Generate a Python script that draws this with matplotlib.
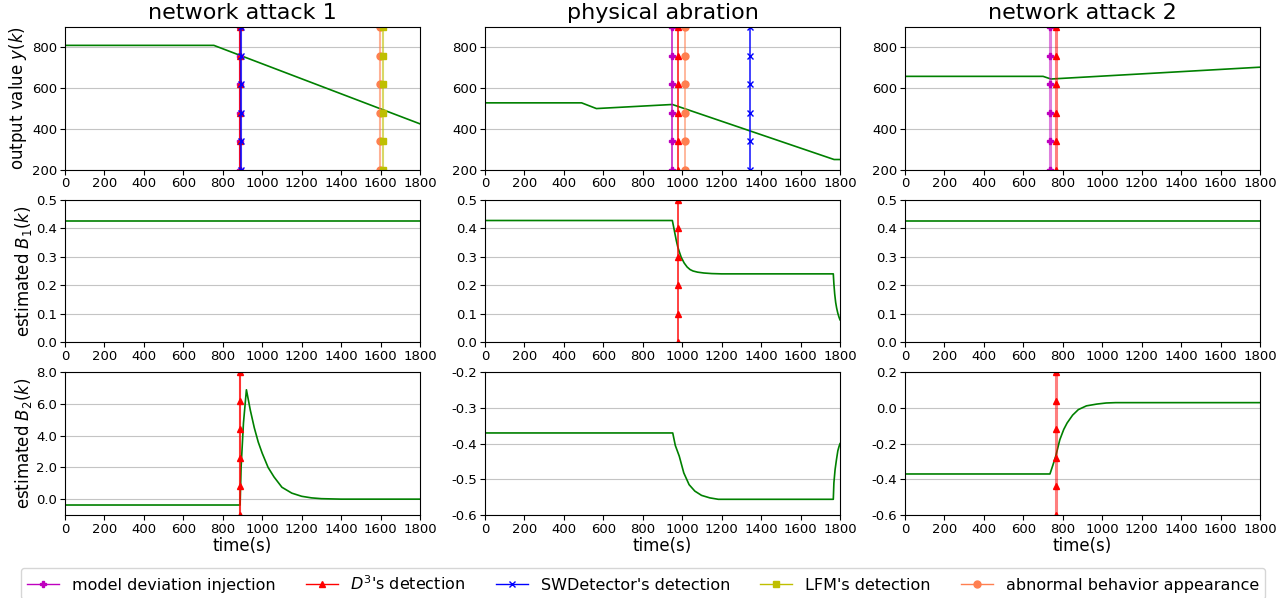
#!/usr/bin/env python3
"""
三种场景下输出值与参数估计曲线，以及各检测器的检测时刻
"""
import numpy as np
import matplotlib
matplotlib.use('Agg')
import matplotlib.pyplot as plt
from matplotlib.lines import Line2D

# 场景标题
scenarios = ['network attack 1', 'physical abration', 'network attack 2']

# 输出值 y(k)
t_y_1 = [0, 755, 1800]
y_1 = [810, 810, 425]
t_y_2 = [0, 490, 565, 950, 1770, 1800]
y_2 = [528, 528, 500, 520, 250, 250]
t_y_3 = [0, 700, 740, 1800]
y_3 = [658, 658, 645, 703]

# 估计的 B1(k)
t_b1_1 = [0, 1800]
b1_1 = [0.427, 0.427]
t_b1_2 = [0, 950, 955, 962, 970, 977, 985, 995, 1010, 1025, 1040, 1055, 1078, 1110, 1150, 1200,
          1766, 1769, 1773, 1778, 1783, 1789, 1795, 1800]
b1_2 = [0.427, 0.427, 0.41, 0.385, 0.357, 0.336, 0.318, 0.298, 0.278, 0.264, 0.255, 0.250, 0.246, 0.243,
        0.241, 0.240, 0.240, 0.205, 0.17, 0.14, 0.12, 0.102, 0.088, 0.079]
t_b1_3 = [0, 1800]
b1_3 = [0.427, 0.427]

# 估计的 B2(k)
t_b2_1 = [0, 888, 893, 905, 920, 940, 960, 980, 1000, 1030, 1060, 1100, 1150, 1200, 1250, 1300, 1400, 1800]
b2_1 = [-0.37, -0.37, 2.0, 4.8, 6.9, 5.6, 4.5, 3.6, 2.9, 2.0, 1.4, 0.75, 0.38, 0.18, 0.08, 0.03, 0.0, 0.0]
t_b2_2 = [0, 952, 965, 985, 1008, 1035, 1064, 1098, 1140, 1183, 1766, 1769, 1775, 1782, 1789, 1795, 1800]
b2_2 = [-0.370, -0.370, -0.405, -0.435, -0.482, -0.515, -0.533, -0.545, -0.552, -0.556, -0.556, -0.51, -0.473, -0.445, -0.42, -0.408, -0.40]
t_b2_3 = [0, 735, 750, 764, 785, 805, 822, 850, 879, 920, 973, 1020, 1068, 1800]
b2_3 = [-0.370, -0.370, -0.32, -0.271, -0.178, -0.12, -0.084, -0.04, -0.009, 0.012, 0.022, 0.028, 0.030, 0.030]

# 事件时刻 (s)
inject_t = [885, 946, 735]
d3_t = [887, 977, 764]
sw_t = [892, 1345, None]
lfm_t = [1613, None, None]
abnormal_t = [1598, 1014, None]

# 每列中 D3 检测线画在哪一行 (1 = B1, 2 = B2)
d3_row = [2, 1, 2]

# 纵轴范围与刻度
y_lims = [(200, 900), (200, 900), (200, 900)]
b1_lims = [(0, 0.5), (0, 0.5), (0, 0.5)]
b2_lims = [(-1, 8), (-0.6, -0.2), (-0.6, 0.2)]
b2_ticks = [[0, 2, 4, 6, 8], [-0.6, -0.5, -0.4, -0.3, -0.2], [-0.6, -0.4, -0.2, 0.0, 0.2]]

styles = {
    'inject': dict(color='m', marker='P', label='model deviation injection'),
    'd3': dict(color='r', marker='^', label="$D^3$'s detection"),
    'sw': dict(color='b', marker='x', label="SWDetector's detection"),
    'lfm': dict(color='y', marker='s', label="LFM's detection"),
    'abnormal': dict(color='coral', marker='o', label='abnormal behavior appearance'),
}

col_line = [dict(lw=1.5, alpha=0.8), dict(lw=1.3, alpha=0.8), dict(lw=2.2, alpha=0.5)]


def draw_event(ax, t, key, ylim, col):
    if t is None:
        return
    st = styles[key]
    ys = np.linspace(ylim[0], ylim[1], 6)
    a = col_line[col]['alpha']
    if key in ('lfm', 'abnormal'):
        a = min(a, 0.6)
    ax.plot([t] * len(ys), ys, color=st['color'], lw=col_line[col]['lw'], alpha=a)
    ax.plot([t] * len(ys), ys, color=st['color'], marker=st['marker'], ms=5,
            linestyle='none')


fig, axes = plt.subplots(3, 3, figsize=(12.86, 5.98), dpi=100)
fig.subplots_adjust(left=0.0505, right=0.9798, top=0.9548, bottom=0.1388,
                    wspace=0.183, hspace=0.21)

ty = [t_y_1, t_y_2, t_y_3]
yy = [y_1, y_2, y_3]
tb1 = [t_b1_1, t_b1_2, t_b1_3]
bb1 = [b1_1, b1_2, b1_3]
tb2 = [t_b2_1, t_b2_2, t_b2_3]
bb2 = [b2_1, b2_2, b2_3]

for c in range(3):
    # 第一行：输出值
    ax = axes[0, c]
    ax.plot(ty[c], yy[c], color='g', lw=1.2)
    for key, ts in [('abnormal', abnormal_t), ('lfm', lfm_t), ('inject', inject_t),
                    ('d3', d3_t), ('sw', sw_t)]:
        draw_event(ax, ts[c], key, y_lims[c], c)
    ax.set_ylim(y_lims[c])
    ax.set_yticks([200, 400, 600, 800])
    ax.set_title(scenarios[c], fontsize=16)

    # 第二行：B1
    ax = axes[1, c]
    ax.plot(tb1[c], bb1[c], color='g', lw=1.2)
    if d3_row[c] == 1:
        draw_event(ax, d3_t[c], 'd3', b1_lims[c], c)
    ax.set_ylim(b1_lims[c])
    ax.set_yticks([0, 0.1, 0.2, 0.3, 0.4, 0.5])
    ax.yaxis.set_major_formatter(matplotlib.ticker.FormatStrFormatter('%.1f'))

    # 第三行：B2
    ax = axes[2, c]
    ax.plot(tb2[c], bb2[c], color='g', lw=1.2)
    if d3_row[c] == 2:
        draw_event(ax, d3_t[c], 'd3', b2_lims[c], c)
    ax.set_ylim(b2_lims[c])
    ax.set_yticks(b2_ticks[c])
    ax.yaxis.set_major_formatter(matplotlib.ticker.FormatStrFormatter('%.1f'))
    ax.set_xlabel('time(s)', fontsize=12, labelpad=1)

for ax in axes.flat:
    ax.set_xlim(0, 1800)
    ax.set_xticks(np.arange(0, 1801, 200))
    ax.tick_params(labelsize=9.5, pad=2)
    ax.grid(axis='y', color='#c4c4c4')

axes[0, 0].set_ylabel('output value $y(k)$', fontsize=12, labelpad=2)
axes[1, 0].set_ylabel('estimated $B_1(k)$', fontsize=12, labelpad=2)
axes[2, 0].set_ylabel('estimated $B_2(k)$', fontsize=12, labelpad=2)

# 图例
handles = [Line2D([0], [0], color=st['color'], marker=st['marker'], ms=5, lw=1)
           for st in styles.values()]
labels = [st['label'] for st in styles.values()]
fig.legend(handles, labels, loc='lower left', ncol=5, mode='expand',
           bbox_to_anchor=(0.016, -0.002, 0.968, 0.06), fontsize=11.5,
           borderaxespad=0, handlelength=2.0)

plt.savefig('out.png', dpi=100)
